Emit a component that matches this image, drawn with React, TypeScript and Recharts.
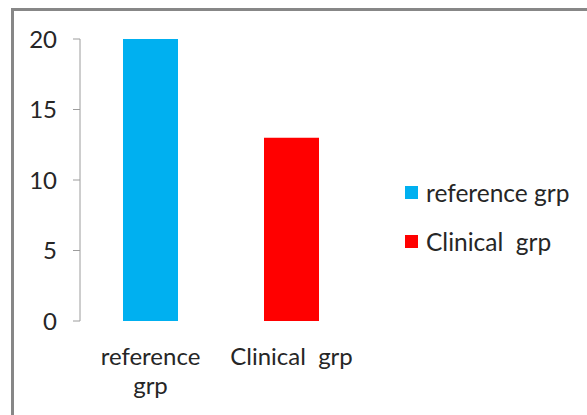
import { Bar, BarChart, Legend, XAxis, YAxis } from "recharts";

const categories = ["reference grp", "Clinical  grp"];
const categoryLines = [["reference", "grp"], ["Clinical  grp"]];
const seriesKeys = ["reference", "clinical"];
const seriesNames = ["reference grp", "Clinical  grp"];
const values = [20, 13];
const colors = ["#00B0F0", "#FF0000"];
const yTicks = [0, 5, 10, 15, 20];
const boundaryTicks = [0, 1, 2];

const FONT = "Lato, 'Liberation Sans', sans-serif";
const TEXT = "#262626";
const AXIS = "#9C9C9C";
const LEGEND_W = 180;

const rows = categories.map((name, i) => {
  const row: Record<string, string | number | null> = { name, pos: i + 0.5 };
  seriesKeys.forEach((key, j) => {
    row[key] = i === j ? values[i] : null;
  });
  return row;
});

function CategoryTick({ x, y, index }: { x: number; y: number; index: number }) {
  const lines = categoryLines[index] ?? [];
  return (
    <text x={x} y={y} textAnchor="middle" fill={TEXT} fontSize={24} fontFamily={FONT} style={{ whiteSpace: "pre" }}>
      {lines.map((line, i) => (
        <tspan key={i} x={x} dy={i === 0 ? 35 : 29}>
          {line}
        </tspan>
      ))}
    </text>
  );
}

function LegendBox() {
  return (
    <div style={{ fontFamily: FONT, fontSize: 24.5, color: TEXT }}>
      {seriesNames.map((name, i) => (
        <div key={name} style={{ display: "flex", alignItems: "center", height: 49, whiteSpace: "pre" }}>
          <span style={{ width: 13, height: 13, background: colors[i], marginRight: 8, display: "inline-block" }} />
          {name}
        </div>
      ))}
    </div>
  );
}

export default function App() {
  return (
    <div
      style={{
        position: "fixed",
        left: 11,
        top: 8,
        borderTop: "3px solid #878787",
        borderLeft: "3px solid #878787",
        width: 576,
        height: 410,
        background: "#fff",
      }}
    >
      <BarChart width={573} height={404} data={rows} margin={{ top: 28, right: 225 - LEGEND_W, bottom: 0, left: 0 }}>
        <XAxis
          xAxisId="edges"
          type="number"
          dataKey="pos"
          domain={[0, 2]}
          ticks={boundaryTicks}
          height={0}
          axisLine={{ stroke: AXIS }}
          tickLine={{ stroke: AXIS }}
          tickSize={7}
          tickFormatter={() => ""}
        />
        <XAxis
          xAxisId="cat"
          dataKey="name"
          height={94}
          axisLine={false}
          tickLine={false}
          tickSize={7}
          tickMargin={2}
          interval={0}
          tick={(props: any) => <CategoryTick x={props.x} y={props.y} index={props.index} />}
        />
        <YAxis
          width={66}
          domain={[0, 20]}
          ticks={yTicks}
          axisLine={{ stroke: AXIS }}
          tickLine={{ stroke: AXIS }}
          tickSize={7}
          tickMargin={16}
          tick={{ fill: TEXT, fontSize: 24, fontFamily: FONT }}
        />
        <Legend
          layout="vertical"
          align="right"
          verticalAlign="top"
          wrapperStyle={{ left: 391, top: 157, width: LEGEND_W }}
          content={() => <LegendBox />}
        />
        {seriesKeys.map((key, i) => (
          <Bar
            key={key}
            xAxisId="cat"
            dataKey={key}
            name={seriesNames[i]}
            stackId="a"
            fill={colors[i]}
            barSize={55}
            isAnimationActive={false}
          />
        ))}
      </BarChart>
    </div>
  );
}
